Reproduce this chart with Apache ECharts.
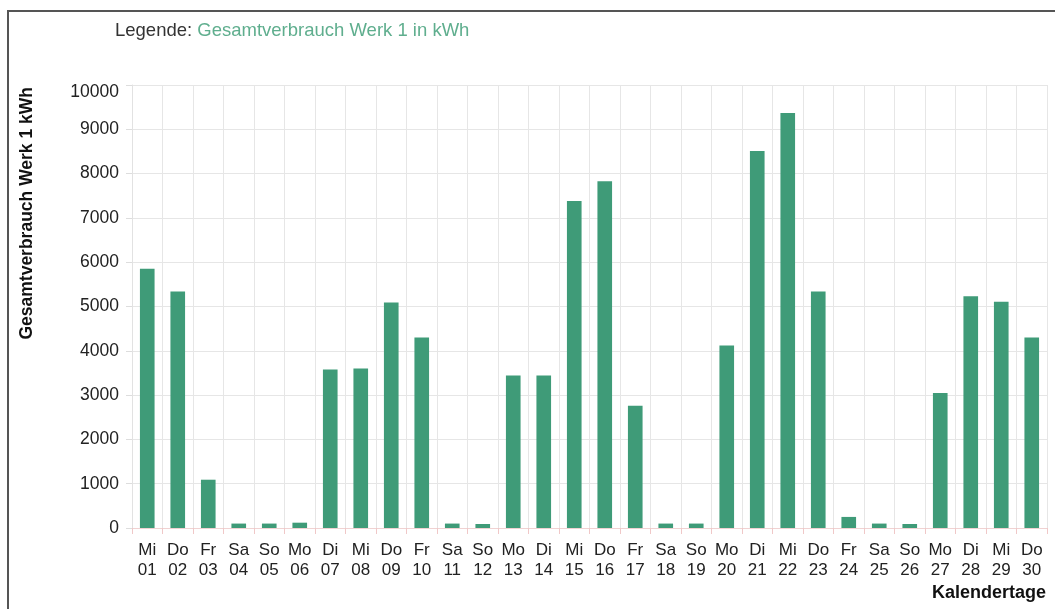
<!DOCTYPE html>
<html>
<head>
<meta charset="utf-8">
<script src="https://cdn.jsdelivr.net/npm/echarts@6/dist/echarts.min.js"></script>
<style>
html,body{margin:0;padding:0;background:#fff;}
#chart{width:1055px;height:609px;}
</style>
</head>
<body>
<div id="chart"></div>
<script>
var weekdays = ['Mi','Do','Fr','Sa','So','Mo','Di','Mi','Do','Fr','Sa','So','Mo','Di','Mi','Do','Fr','Sa','So','Mo','Di','Mi','Do','Fr','Sa','So','Mo','Di','Mi','Do'];
var dayNumbers = ['01','02','03','04','05','06','07','08','09','10','11','12','13','14','15','16','17','18','19','20','21','22','23','24','25','26','27','28','29','30'];
var consumption = [5850,5340,1090,100,100,120,3580,3600,5090,4300,100,90,3440,3440,7380,7830,2760,100,100,4120,8510,9370,5340,250,100,90,3050,5230,5110,4300];
var yTicks = [0,1000,2000,3000,4000,5000,6000,7000,8000,9000,10000];
var seriesName = 'Gesamtverbrauch Werk 1 in kWh';
var yAxisTitle = 'Gesamtverbrauch Werk 1 kWh';
var xAxisTitle = 'Kalendertage';

var categories = weekdays.map(function(d, i){ return d + '\n' + dayNumbers[i]; });
var FONT = '"Liberation Sans", Arial, Helvetica, sans-serif';

var chart = echarts.init(document.getElementById('chart'));
chart.setOption({
  backgroundColor: '#ffffff',
  animation: false,
  title: {
    left: 110, top: 16,
    text: '{a|Legende: }{b|' + seriesName + '}',
    textStyle: {
      fontWeight: 'normal',
      rich: {
        a: {fontFamily: FONT, fontSize: 18.5, fontWeight: 'normal', color: '#333333'},
        b: {fontFamily: FONT, fontSize: 18.5, fontWeight: 'normal', color: '#5fae8e'}
      }
    }
  },
  graphic: [
    {type: 'rect', z: -10, shape: {x: 8, y: 11, width: 1070, height: 620},
     style: {fill: 'none', stroke: '#555555', lineWidth: 2}},
    {type: 'text', x: 27, y: 87, rotation: Math.PI / 2,
     style: {text: yAxisTitle, fill: '#111111', font: 'bold 17.5px ' + FONT, align: 'right', verticalAlign: 'middle'}},
    {type: 'text', x: 1046, y: 593,
     style: {text: xAxisTitle, fill: '#111111', font: 'bold 18px ' + FONT, align: 'right', verticalAlign: 'middle'}}
  ],
  grid: {left: 132, right: 8, top: 85, bottom: 81, containLabel: false},
  xAxis: {
    type: 'category',
    data: categories,
    boundaryGap: true,
    axisLine: {show: true, lineStyle: {color: '#f0d2d2', width: 1}},
    axisTick: {show: true, length: 6, lineStyle: {color: '#f0c8c8'}},
    axisLabel: {interval: 0, margin: 12, fontFamily: FONT, fontSize: 17, color: '#222222', lineHeight: 20},
    splitLine: {show: true, interval: 0, lineStyle: {color: '#e6e6e6', width: 1}}
  },
  yAxis: {
    type: 'value',
    min: yTicks[0], max: yTicks[yTicks.length - 1], interval: 1000,
    axisLine: {show: true, lineStyle: {color: '#e2e2e2'}},
    axisTick: {show: true, length: 6, lineStyle: {color: '#dddddd'}},
    axisLabel: {
      margin: 13, fontFamily: FONT, fontSize: 17.5, color: '#222222',
      formatter: function(v){ return v === yTicks[yTicks.length - 1] ? '{t|' + v + '}' : String(v); },
      rich: {t: {fontFamily: FONT, fontSize: 17.5, color: '#222222', padding: [14, 0, 0, 0]}}
    },
    splitLine: {show: true, lineStyle: {color: '#e6e6e6', width: 1}}
  },
  series: [{
    name: seriesName,
    type: 'bar',
    data: consumption,
    barWidth: '48%',
    itemStyle: {color: '#3f9b78'}
  }]
});
</script>
</body>
</html>
